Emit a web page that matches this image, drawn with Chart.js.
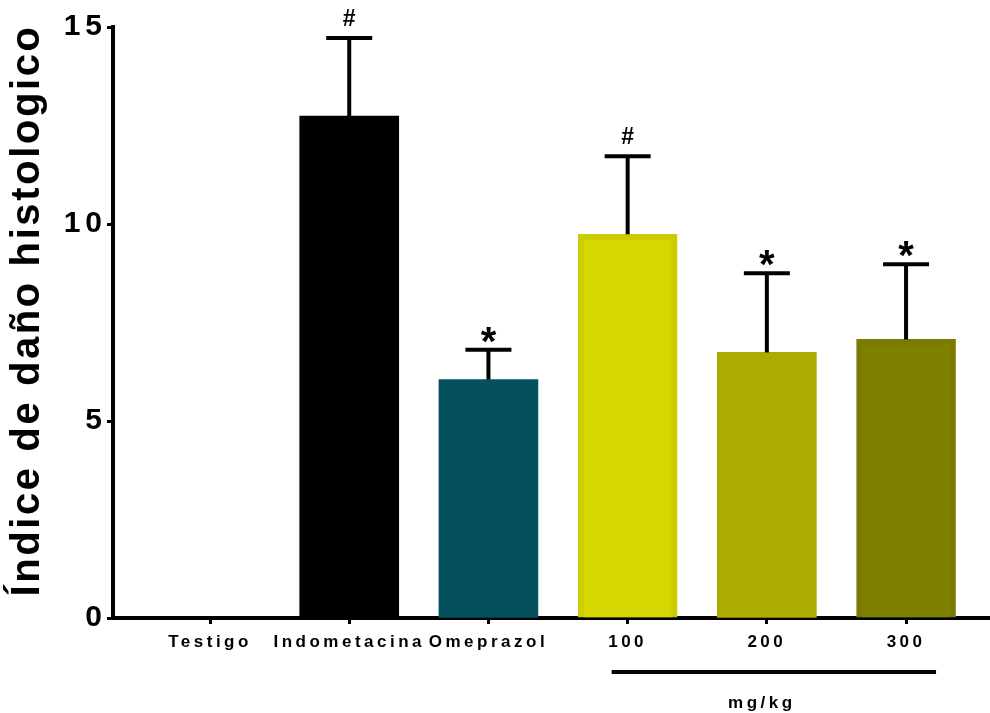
<!DOCTYPE html>
<html>
<head>
<meta charset="utf-8">
<script src="https://cdn.jsdelivr.net/npm/chart.js@4.4.1/dist/chart.umd.min.js"></script>
<style>
  html, body { margin: 0; padding: 0; background: #ffffff; }
  canvas { display: block; }
</style>
</head>
<body>
<canvas id="chart" width="990" height="713"></canvas>
<script>
// Group names shown under the x axis
const categories = ['Testigo', 'Indometacina', 'Omeprazol', '100', '200', '300'];
// Mean histological damage index per group
const means = [0, 12.74, 6.05, 9.74, 6.74, 7.07];
// Error (upper whisker length) per group
const errors = [0, 1.98, 0.76, 1.98, 2.01, 1.91];
// Significance marks over each whisker
const marks = ['', '#', '*', '#', '*', '*'];
// Y axis tick values
const yTicks = [0, 5, 10, 15];
// Dose groups sharing the mg/kg bracket
const doseGroup = { label: 'mg/kg', from: 3, to: 5 };

const FONT = '"Liberation Sans", Arial, Helvetica, sans-serif';
const barColors = ['#000000', '#000000', '#05505f', '#d6d600', '#abab00', '#7f7f00'];
const barEdges = ['#000000', '#000000', '#05505f', '#cccc00', '#abab00', '#7a7a00'];
const barEdgeWidths = [0, 0, 0, 6, 0, 6];

// Per-axis letter spacing for the wide, tracked lettering
const tracking = { x: { labels: 3.5 }, y: { labels: 5, title: 2.6, titleShift: [7, -12] } };

const trackingPlugin = {
  id: 'tracking',
  beforeDraw(chart) {
    for (const id of ['x', 'y']) {
      const s = chart.scales[id];
      if (!s || s._tracked) continue;
      s._tracked = true;
      const cfg = tracking[id];
      const drawLabels = s.drawLabels;
      s.drawLabels = function (area) {
        const c = this.ctx;
        c.save();
        c.letterSpacing = cfg.labels + 'px';
        drawLabels.call(this, area);
        c.restore();
      };
      if (cfg.title) {
        const drawTitle = s.drawTitle;
        s.drawTitle = function () {
          const c = this.ctx;
          c.save();
          c.letterSpacing = cfg.title + 'px';
          c.translate(cfg.titleShift[0], cfg.titleShift[1]);
          drawTitle.call(this);
          c.restore();
        };
      }
    }
  }
};

// Whiskers, significance marks and the dose bracket
const annotationPlugin = {
  id: 'annotations',
  afterDatasetsDraw(chart) {
    const { ctx, scales: { x, y } } = chart;
    ctx.save();
    ctx.strokeStyle = '#000';
    ctx.fillStyle = '#000';
    ctx.lineWidth = 4;
    ctx.lineCap = 'butt';
    means.forEach((m, i) => {
      if (!errors[i]) return;
      const cx = x.getPixelForValue(i);
      const y0 = y.getPixelForValue(m);
      const y1 = y.getPixelForValue(m + errors[i]);
      ctx.beginPath();
      ctx.moveTo(cx, y0);
      ctx.lineTo(cx, y1);
      ctx.stroke();
      ctx.beginPath();
      ctx.moveTo(cx - 23, y1);
      ctx.lineTo(cx + 23, y1);
      ctx.stroke();
      const mk = marks[i];
      if (mk) {
        const star = mk === '*';
        ctx.font = 'bold ' + (star ? 40 : 23) + 'px ' + FONT;
        ctx.textAlign = 'center';
        ctx.textBaseline = 'alphabetic';
        const mt = ctx.measureText(mk);
        const gap = star ? 7 : 12;
        ctx.fillText(mk, cx, y1 - gap - mt.actualBoundingBoxDescent);
      }
    });
    ctx.restore();
  },
  afterDraw(chart) {
    const { ctx, scales: { x }, chartArea } = chart;
    const xa = x.getPixelForValue(doseGroup.from) - 16;
    const xb = x.getPixelForValue(doseGroup.to) + 30;
    const ly = chartArea.bottom + 54;
    ctx.save();
    ctx.strokeStyle = '#000';
    ctx.lineWidth = 4;
    ctx.beginPath();
    ctx.moveTo(xa, ly);
    ctx.lineTo(xb, ly);
    ctx.stroke();
    ctx.fillStyle = '#000';
    ctx.font = 'bold 17px ' + FONT;
    ctx.letterSpacing = '3.5px';
    ctx.textAlign = 'center';
    ctx.textBaseline = 'alphabetic';
    const mid = x.getPixelForValue((doseGroup.from + doseGroup.to) / 2) - 5;
    ctx.fillText(doseGroup.label, mid, chartArea.bottom + 90);
    ctx.restore();
  }
};

new Chart(document.getElementById('chart'), {
  type: 'bar',
  data: {
    datasets: [{
      data: categories.map((c, i) => ({ x: i, y: means[i] })),
      backgroundColor: barColors,
      borderColor: barEdges,
      borderWidth: barEdgeWidths,
      barThickness: 99
    }]
  },
  options: {
    responsive: false,
    devicePixelRatio: 1,
    animation: false,
    layout: { padding: { top: 27, right: 0, bottom: 0, left: 0 } },
    plugins: { legend: { display: false }, tooltip: { enabled: false } },
    scales: {
      x: {
        type: 'linear',
        offset: false,
        min: -0.697,
        max: 5.603,
        afterBuildTicks: s => { s.ticks = categories.map((_, i) => ({ value: i })); },
        afterFit: s => { s.height = 95; },
        ticks: {
          callback: v => categories[v],
          autoSkip: false,
          maxRotation: 0,
          color: '#000',
          padding: 8,
          font: { family: FONT, size: 17, weight: 'bold' }
        },
        grid: { offset: false, drawOnChartArea: false, drawTicks: true, tickLength: 6, tickWidth: 3, tickColor: '#000' },
        border: { display: true, color: '#000', width: 4 }
      },
      y: {
        min: 0,
        max: 15,
        afterBuildTicks: s => { s.ticks = yTicks.map(v => ({ value: v })); },
        afterFit: s => { s.width = 113; },
        ticks: {
          color: '#000',
          padding: 0,
          font: { family: FONT, size: 30, weight: 'bold' }
        },
        grid: { drawOnChartArea: false, drawTicks: true, tickLength: 6, tickWidth: 3, tickColor: '#000' },
        border: { display: true, color: '#000', width: 4 },
        title: {
          display: true,
          text: 'Índice de daño histologico',
          color: '#000',
          padding: { top: 0, bottom: 0 },
          font: { family: FONT, size: 40, weight: 'bold', lineHeight: 1.05 }
        }
      }
    }
  },
  plugins: [trackingPlugin, annotationPlugin]
});
</script>
</body>
</html>
